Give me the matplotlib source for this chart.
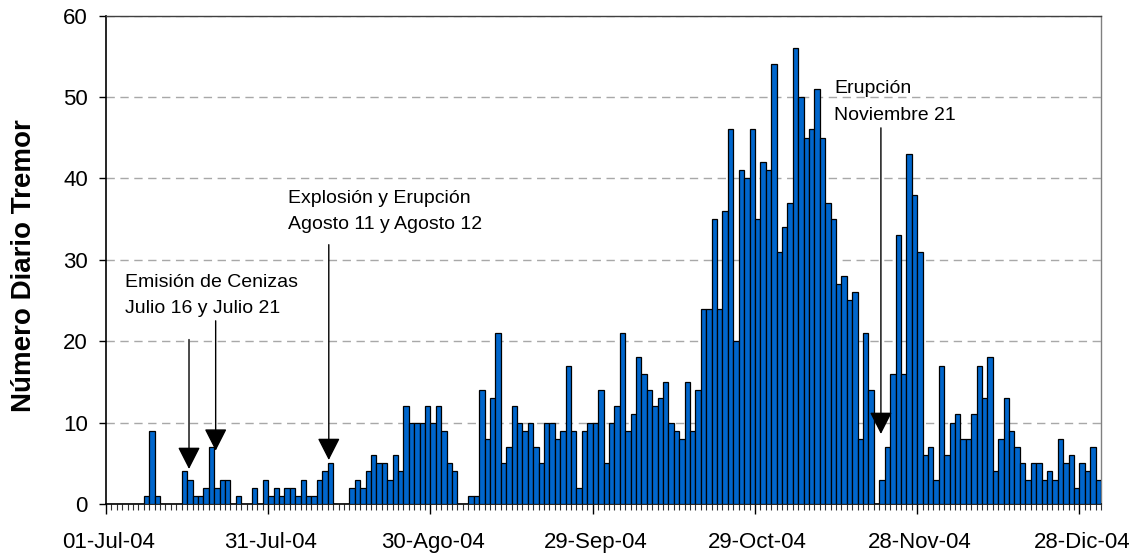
import numpy as np
import matplotlib
matplotlib.use("Agg")
import matplotlib.pyplot as plt
from matplotlib.transforms import ScaledTranslation

# Daily tremor count, 01-Jul-2004 .. 31-Dec-2004 (one value per day)
tremor = [
    0, 0, 0, 0, 0, 0, 0, 1, 9, 1,          # Jul 1-10
    0, 0, 0, 0, 4, 3, 1, 1, 2, 7,          # Jul 11-20
    2, 3, 3, 0, 1, 0, 0, 2, 0, 3,          # Jul 21-30
    1, 2, 1, 2, 2, 1, 3, 1, 1, 3,          # Jul 31-Aug 9
    4, 5, 0, 0, 0, 2, 3, 2, 4, 6,          # Aug 10-19
    5, 5, 3, 6, 4, 12, 10, 10, 10, 12,     # Aug 20-29
    10, 12, 9, 5, 4, 0, 0, 1, 1, 14,       # Aug 30-Sep 8
    8, 13, 21, 5, 7, 12, 10, 9, 10, 7,     # Sep 9-18
    5, 10, 10, 8, 9, 17, 9, 2, 9, 10,      # Sep 19-28
    10, 14, 5, 10, 12, 21, 9, 11, 18, 16,  # Sep 29-Oct 8
    14, 12, 13, 15, 10, 9, 8, 15, 9, 14,   # Oct 9-18
    24, 24, 35, 24, 36, 46, 20, 41, 40, 46,  # Oct 19-28
    35, 42, 41, 54, 31, 34, 37, 56, 50, 45,  # Oct 29-Nov 7
    46, 51, 45, 37, 35, 27, 28, 25, 26, 8,   # Nov 8-17
    21, 14, 0, 3, 7, 16, 33, 16, 43, 38,     # Nov 18-27
    31, 6, 7, 3, 17, 6, 10, 11, 8, 8,        # Nov 28-Dec 7
    11, 17, 13, 18, 4, 8, 13, 9, 7, 5,       # Dec 8-17
    3, 5, 5, 3, 4, 3, 8, 5, 6, 2,            # Dec 18-27
    5, 4, 7, 3,                              # Dec 28-31
]
tick_days = [0, 30, 60, 90, 120, 150, 180]
tick_labels = ["01-Jul-04", "31-Jul-04", "30-Ago-04", "29-Sep-04",
               "29-Oct-04", "28-Nov-04", "28-Dic-04"]
y_ticks = [0, 10, 20, 30, 40, 50, 60]

plt.rcParams['font.family'] = ['Liberation Sans', 'DejaVu Sans']

fig = plt.figure(figsize=(11.4, 5.56), dpi=100)
ax = fig.add_axes([106 / 1140, 52 / 556, 995 / 1140, 488.5 / 556])

days = np.arange(len(tremor))
ax.bar(days, tremor, width=1.0, color='#0066CC', edgecolor='black',
       linewidth=0.9, zorder=3)

ax.set_xlim(-0.5, len(tremor) - 0.5)
ax.set_ylim(0, 60)

# grid
ax.set_yticks(y_ticks)
ax.yaxis.grid(True, color='#A8A8A8', linestyle=(0, (6, 4)), linewidth=1.0, zorder=1)
ax.set_axisbelow(True)

# y axis
ax.tick_params(axis='y', direction='out', length=5, width=1.0, pad=8,
               labelsize=16, color='black')

# x axis: major ticks at category boundaries every 30 days, minor every day
ax.set_xticks([d - 0.5 for d in tick_days])
ax.set_xticklabels(tick_labels)
ax.set_xticks(np.arange(-0.5, len(tremor), 1.0), minor=True)
ax.tick_params(axis='x', which='major', direction='out', length=7, width=1.0,
               pad=13, labelsize=16, color='black')
ax.tick_params(axis='x', which='minor', direction='out', length=4, width=0.8,
               color='#333333')
offset = ScaledTranslation(2.7 / 100, 0, fig.dpi_scale_trans)
for lab in ax.get_xticklabels():
    lab.set_transform(lab.get_transform() + offset)

for s in ['left', 'bottom']:
    ax.spines[s].set_color('black')
    ax.spines[s].set_linewidth(1.2)
ax.spines['top'].set_color('#404040')
ax.spines['right'].set_color('#808080')
ax.spines['top'].set_linewidth(1.0)
ax.spines['right'].set_linewidth(1.0)

ax.set_ylabel('Número Diario Tremor', fontsize=20, fontweight='bold')
ax.yaxis.set_label_coords(-0.069, 0.487)

# annotations
arrow_kw = dict(arrowstyle='-|>,head_length=0.55,head_width=0.28',
                color='black', lw=1.0, mutation_scale=25,
                shrinkA=0, shrinkB=0)

def arrow(x, y0, y1):
    ax.annotate('', xy=(x, y1), xytext=(x, y0), arrowprops=arrow_kw, zorder=5)

arrow(14.85, 20.2, 4.3)
arrow(19.78, 22.5, 6.55)
arrow(40.7, 31.85, 5.4)
arrow(142.8, 46.2, 8.6)

txt = dict(fontsize=14, ha='left', va='baseline', color='black', zorder=6)
ax.text(3.0, 26.65, 'Emisión de Cenizas', **txt)
ax.text(3.0, 23.45, 'Julio 16 y Julio 21', **txt)
ax.text(33.2, 36.95, 'Explosión y Erupción', **txt)
ax.text(33.2, 33.8, 'Agosto 11 y Agosto 12', **txt)
ax.text(134.2, 50.5, 'Erupción', **txt)
ax.text(134.2, 47.2, 'Noviembre 21', **txt)

fig.savefig('out.png', dpi=100)
